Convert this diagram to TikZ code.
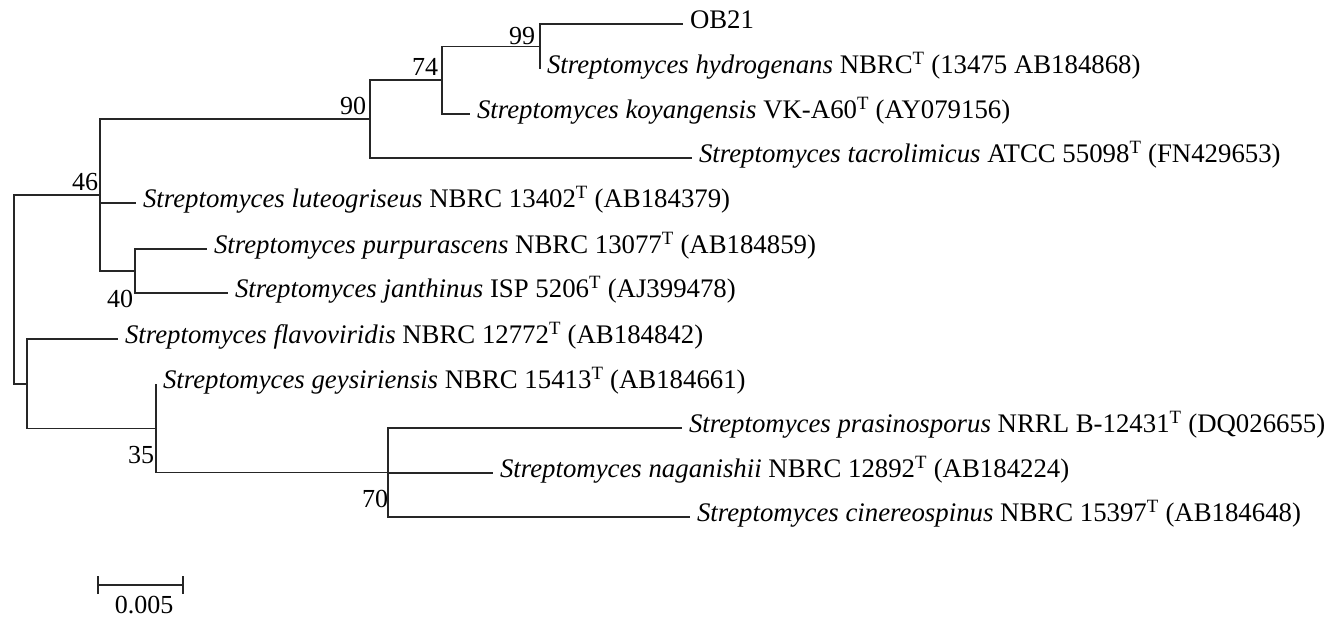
\documentclass[tikz,border=0pt]{standalone}
\usepackage{fontspec}
\setmainfont{Liberation Serif}
\begin{document}
\begin{tikzpicture}[x=1pt,y=-1pt,
  branch/.style={line width=1.6pt,draw=black!85},
  leaf/.style={anchor=west,inner xsep=7pt,inner ysep=0pt,outer sep=0pt,text height=1.11em,text depth=0.25em,font=\fontsize{26.8}{31}\selectfont},
  boot/.style={inner sep=0pt,font=\fontsize{26}{30}\selectfont}]
\useasboundingbox (0,0) rectangle (1332,619);
% internal nodes
\coordinate (r) at (14,289.5);
\coordinate (n46) at (100,195);
\coordinate (nF) at (27,384);
\coordinate (n40) at (135,271);
\coordinate (n90) at (370,119);
\coordinate (n74) at (442,80);
\coordinate (n99) at (540,46.5);
\coordinate (n35) at (156,428.5);
\coordinate (n70) at (388,472.5);
% leaves
\node[leaf] (ob) at (683,24) {OB21};
\node[leaf] (hyd) at (540,69) {\textit{Streptomyces hydrogenans} NBRC\textsuperscript{T} (13475 AB184868)};
\node[leaf] (koy) at (470,114) {\textit{Streptomyces koyangensis} VK-A60\textsuperscript{T} (AY079156)};
\node[leaf] (tac) at (692,158) {\textit{Streptomyces tacrolimicus} ATCC 55098\textsuperscript{T} (FN429653)};
\node[leaf] (lut) at (136,203) {\textit{Streptomyces luteogriseus} NBRC 13402\textsuperscript{T} (AB184379)};
\node[leaf] (pur) at (207,249) {\textit{Streptomyces purpurascens} NBRC 13077\textsuperscript{T} (AB184859)};
\node[leaf] (jan) at (228,293) {\textit{Streptomyces janthinus} ISP 5206\textsuperscript{T} (AJ399478)};
\node[leaf] (fla) at (118,339) {\textit{Streptomyces flavoviridis} NBRC 12772\textsuperscript{T} (AB184842)};
\node[leaf] (gey) at (156,384) {\textit{Streptomyces geysiriensis} NBRC 15413\textsuperscript{T} (AB184661)};
\node[leaf] (pra) at (682,428) {\textit{Streptomyces prasinosporus} NRRL B-12431\textsuperscript{T} (DQ026655)};
\node[leaf] (nag) at (493,473) {\textit{Streptomyces naganishii} NBRC 12892\textsuperscript{T} (AB184224)};
\node[leaf] (cin) at (690,517) {\textit{Streptomyces cinereospinus} NBRC 15397\textsuperscript{T} (AB184648)};
% branches
\draw[branch] (r) |- (n46);
\draw[branch] (r) |- (nF);
\draw[branch] (n46) |- (n90);
\draw[branch] (n46) |- (lut.west);
\draw[branch] (n46) |- (n40);
\draw[branch] (n40) |- (pur.west);
\draw[branch] (n40) |- (jan.west);
\draw[branch] (n90) |- (n74);
\draw[branch] (n90) |- (tac.west);
\draw[branch] (n74) |- (n99);
\draw[branch] (n74) |- (koy.west);
\draw[branch] (n99) |- (ob.west);
\draw[branch] (n99) |- (hyd.west);
\draw[branch] (nF) |- (fla.west);
\draw[branch] (nF) |- (n35);
\draw[branch] (n35) |- (gey.west);
\draw[branch] (n35) |- (n70);
\draw[branch] (n70) |- (pra.west);
\draw[branch] (n70) |- (nag.west);
\draw[branch] (n70) |- (cin.west);
% bootstrap values
\node[boot] (b99) at (522,36) {99};
\node[boot] (b74) at (425,67) {74};
\node[boot] (b90) at (353,106) {90};
\node[boot] (b46) at (85,182) {46};
\node[boot] (b40) at (120,299) {40};
\node[boot] (b35) at (141,455) {35};
\node[boot] (b70) at (375,499) {70};
% scale bar
\coordinate (sbL) at (98,585);
\coordinate (sbR) at (183,585);
\draw[branch] (sbL) -- (sbR);
\draw[branch] ([yshift=-9pt]sbL) -- ([yshift=9pt]sbL);
\draw[branch] ([yshift=-9pt]sbR) -- ([yshift=9pt]sbR);
\node[boot] (sbt) at (144,605) {0.005};
\end{tikzpicture}
\end{document}
